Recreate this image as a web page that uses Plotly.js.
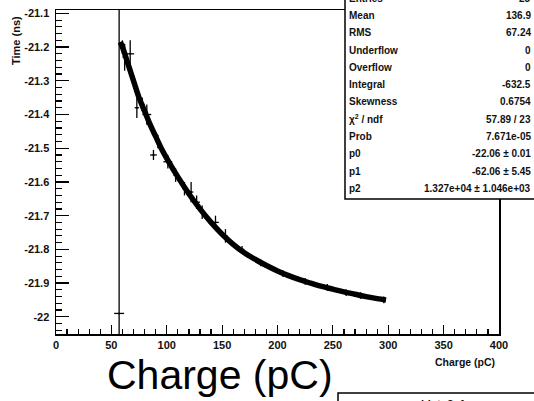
<!DOCTYPE html>
<html>
<head>
<meta charset="utf-8">
<script src="https://cdn.plot.ly/plotly-3.0.1.min.js"></script>
<style>html,body{margin:0;padding:0;background:#fff;}#chart{width:534px;height:401px;}</style>
</head>
<body>
<div id="chart"></div>
<script>
// Measured points (charge in pC, time in ns) with errors
const pointX  = [57, 60, 62, 67, 73, 78, 82, 88, 92, 101, 108, 116, 122, 127, 132, 144, 153, 168, 185, 205, 225, 245, 262, 275, 296];
const pointY  = [-21.99, -21.20, -21.23, -21.22, -21.38, -21.37, -21.40, -21.52, -21.48, -21.54, -21.58, -21.62, -21.63, -21.66, -21.69, -21.72, -21.76, -21.80, -21.84, -21.872, -21.895, -21.913, -21.928, -21.937, -21.95];
const pointEX = [4.5, 1.5, 2, 3.5, 2, 2, 4, 3, 2, 4, 2, 2, 2, 3, 2, 3, 2, 2, 2, 2, 2, 2, 2, 2, 2];
const pointEY = [1.2, 0.02, 0.04, 0.04, 0.03, 0.02, 0.03, 0.015, 0.02, 0.02, 0.02, 0.02, 0.03, 0.02, 0.02, 0.02, 0.02, 0.01, 0.01, 0.01, 0.01, 0.01, 0.01, 0.01, 0.01];

// Fitted curve
const fitX = [58, 60, 65, 70, 75, 80, 85, 90, 95, 100, 110, 120, 130, 140, 150, 160, 170, 180, 190, 200, 210, 220, 230, 240, 250, 260, 270, 280, 290, 298];
const fitY = [-21.185, -21.20, -21.25, -21.30, -21.35, -21.39, -21.43, -21.465, -21.50, -21.53, -21.585, -21.635, -21.68, -21.72, -21.755, -21.785, -21.81, -21.83, -21.848, -21.864, -21.878, -21.89, -21.90, -21.91, -21.918, -21.926, -21.933, -21.94, -21.946, -21.95];

// Tick labels
const yTickVals = [-21.1, -21.2, -21.3, -21.4, -21.5, -21.6, -21.7, -21.8, -21.9, -22];
const yTickText = ["-21.1", "-21.2", "-21.3", "-21.4", "-21.5", "-21.6", "-21.7", "-21.8", "-21.9", "-22"];
const xTickVals = [0, 50, 100, 150, 200, 250, 300, 350, 400];
const xTickText = ["0", "50", "100", "150", "200", "250", "300", "350", "400"];

// Statistics box
const statLabels = ["Entries", "Mean", "RMS", "Underflow", "Overflow", "Integral", "Skewness", "\u03C7<sup>2</sup> / ndf", "Prob", "p0", "p1", "p2"];
const statValues = ["25", "136.9", "67.24", "0", "0", "-632.5", "0.6754", "57.89 / 23", "7.671e-05", "-22.06 \u00B1 0.01", "-62.06 \u00B1 5.45", "1.327e+04 \u00B1 1.046e+03"];

const W = 534, H = 401, L = 56, R = 35, T = 10, B = 67;
const pw = W - L - R, ph = H - T - B;
const px = x => (x - L) / pw;
const py = y => (H - B - y) / ph;

const FONT = "Liberation Sans, Arial, sans-serif";

const traces = [
  {
    x: fitX, y: fitY, type: 'scatter', mode: 'lines',
    line: {color: '#000', width: 5.5, shape: 'spline', smoothing: 1},
    hoverinfo: 'skip', showlegend: false
  },
  {
    x: pointX, y: pointY, type: 'scatter', mode: 'markers',
    marker: {color: '#000', size: 2},
    error_x: {type: 'data', array: pointEX, color: '#000', thickness: 1.3, width: 0},
    error_y: {type: 'data', array: pointEY, color: '#000', thickness: 1.3, width: 0},
    showlegend: false, cliponaxis: true
  }
];

const annotations = [];
const shapes = [];

// stats box
shapes.push({type: 'rect', xref: 'paper', yref: 'paper', x0: px(345), x1: px(545), y0: py(199), y1: py(-20),
  fillcolor: '#fff', line: {color: '#000', width: 1.5}, layer: 'above'});
statLabels.forEach((lab, i) => {
  const yc = -1.6 + 17.26 * i;
  annotations.push({xref: 'paper', yref: 'paper', x: px(347), y: py(yc), xanchor: 'left', yanchor: 'middle',
    text: lab, showarrow: false, font: {family: FONT, size: 10, color: '#111', weight: 'bold'}});
  annotations.push({xref: 'paper', yref: 'paper', x: px(533), y: py(yc), xanchor: 'right', yanchor: 'middle',
    text: statValues[i], showarrow: false, font: {family: FONT, size: 10, color: '#111', weight: 'bold'}});
});

// bottom partial box
shapes.push({type: 'rect', xref: 'paper', yref: 'paper', x0: px(338), x1: px(545), y0: py(430), y1: py(393),
  fillcolor: '#fff', line: {color: '#000', width: 1.5}, layer: 'above'});
annotations.push({xref: 'paper', yref: 'paper', x: px(443), y: py(396), xanchor: 'center', yanchor: 'top',
  text: 'histo3_1', showarrow: false, font: {family: FONT, size: 11, color: '#111', weight: 'bold'}});

// axis titles
annotations.push({xref: 'paper', yref: 'paper', x: px(497), y: py(362), xanchor: 'right', yanchor: 'middle',
  text: 'Charge (pC)', showarrow: false, font: {family: FONT, size: 10.5, color: '#111', weight: 'bold'}});
annotations.push({xref: 'paper', yref: 'paper', x: px(16), y: py(41), xanchor: 'center', yanchor: 'middle',
  text: 'Time (ns)', textangle: -90, showarrow: false, font: {family: FONT, size: 11, color: '#111', weight: 'bold'}});
annotations.push({xref: 'paper', yref: 'paper', x: px(220), y: py(375), xanchor: 'center', yanchor: 'middle',
  text: 'Charge (pC)', showarrow: false, font: {family: FONT, size: 41, color: '#000'}});

const layout = {
  width: W, height: H,
  margin: {l: L, r: R, t: T, b: B, pad: 0},
  paper_bgcolor: '#fff', plot_bgcolor: '#fff',
  showlegend: false,
  xaxis: {
    range: [0, 400], showgrid: false, zeroline: false,
    showline: true, mirror: true, linecolor: '#000', linewidth: 1.5,
    tickmode: 'array', tickvals: xTickVals, ticktext: xTickText,
    ticks: 'inside', ticklen: 9, tickwidth: 1.2, tickcolor: '#000',
    minor: {ticks: 'inside', dtick: 10, ticklen: 5, tickwidth: 1.2, tickcolor: '#000', showgrid: false},
    tickfont: {family: FONT, size: 11, color: '#111', weight: 'bold'}
  },
  yaxis: {
    range: [-22.051, -21.09], showgrid: false, zeroline: false,
    showline: true, mirror: true, linecolor: '#000', linewidth: 1.5,
    tickmode: 'array', tickvals: yTickVals, ticktext: yTickText,
    ticks: 'inside', ticklen: 13, tickwidth: 1.2, tickcolor: '#000',
    minor: {ticks: 'inside', dtick: 0.02, tick0: -22, ticklen: 6, tickwidth: 1.2, tickcolor: '#000', showgrid: false},
    tickfont: {family: FONT, size: 11, color: '#111', weight: 'bold'},
    ticklabelstandoff: 3
  },
  annotations: annotations,
  shapes: shapes
};

Plotly.newPlot('chart', traces, layout, {staticPlot: true, displayModeBar: false});
</script>
</body>
</html>
